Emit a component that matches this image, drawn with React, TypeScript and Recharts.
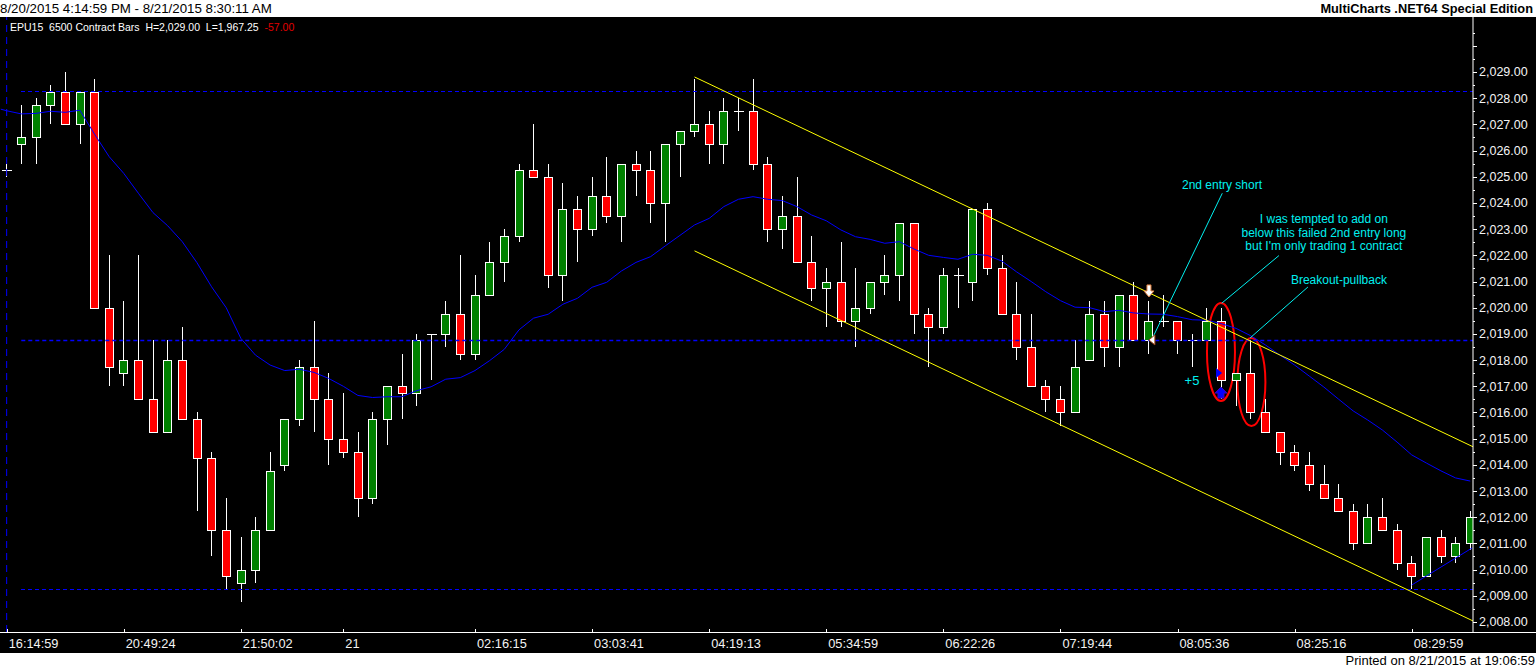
import {
  Bar,
  ComposedChart,
  Line,
  ReferenceDot,
  ReferenceLine,
  XAxis,
  YAxis,
} from 'recharts';

// first bar sits left of the session break, so bars run from index -1 to 99
const FIRST_BAR = -1;

const opens = [
  2025.25,
  2026.25, 2026.5, 2027.75, 2028.25, 2027, 2028.25, 2020, 2017.5, 2018, 2016.5,
  2015.25, 2018, 2015.75, 2014.25, 2011.5, 2009.5, 2010, 2011.5, 2014, 2015.75,
  2017.75, 2016.5, 2015, 2014.5, 2012.75, 2015.75, 2017, 2016.75, 2019, 2019,
  2019.75, 2018.25, 2020.5, 2021.75, 2022.75, 2025.25, 2025, 2021.25, 2023.75, 2023,
  2024.25, 2023.5, 2025.5, 2025.25, 2024, 2026.25, 2026.75, 2027, 2026.25, 2027.5,
  2027.5, 2025.5, 2023, 2023.5, 2021.75, 2020.75, 2021, 2019.5, 2020, 2021,
  2021.25, 2023.25, 2019.75, 2019.25, 2021.25, 2021, 2023.75, 2021.5, 2019.75, 2018.5,
  2017, 2016.5, 2016, 2018, 2019.75, 2018.5, 2020.5, 2018.75, 2019.5, 2019.5,
  2018.75, 2018.75, 2019.5, 2017.25, 2017.5, 2016, 2015.25, 2014.5, 2014, 2013.25,
  2012.75, 2012.25, 2011, 2012, 2011.5, 2010.25, 2009.75, 2011.25, 2010.5, 2011,
];
const highs = [
  2025.5,
  2027.75, 2028, 2028.5, 2029, 2028.25, 2028.75, 2022, 2020.25, 2022, 2018.75,
  2018.75, 2019.25, 2016, 2014.5, 2012.75, 2011.25, 2012, 2014.5, 2015.75, 2018,
  2019.5, 2017.5, 2016.75, 2015.25, 2016, 2017, 2018.25, 2019, 2019, 2020.25,
  2022, 2021.25, 2022.5, 2023, 2025.5, 2027, 2025.5, 2024.75, 2024.25, 2025,
  2025.75, 2025.5, 2026, 2026, 2026.25, 2026.75, 2028.75, 2027.5, 2028, 2028,
  2028.75, 2025.75, 2024.25, 2025, 2022.75, 2021.5, 2022.5, 2021.5, 2021, 2022,
  2023.25, 2023.25, 2020, 2021.5, 2021.5, 2023.75, 2024, 2022, 2021, 2019.75,
  2017.25, 2017, 2018.75, 2020.25, 2020.25, 2020.5, 2021, 2020.25, 2020.5, 2019.5,
  2019, 2020, 2020, 2017.5, 2018.75, 2016.5, 2015.25, 2014.75, 2014.5, 2014,
  2013.25, 2012.5, 2012.5, 2012.75, 2011.75, 2010.5, 2011.25, 2011.5, 2011.25, 2012.25,
];
const lows = [
  2025,
  2025.5, 2025.5, 2027, 2027, 2026.25, 2020, 2017, 2017, 2016.5, 2015.25,
  2015.25, 2015.75, 2012.25, 2010.5, 2009.25, 2008.75, 2009.5, 2011.5, 2013.75, 2015.5,
  2015.25, 2014, 2014.25, 2012, 2012.5, 2014.75, 2015.75, 2016.25, 2017.25, 2018.5,
  2018, 2018, 2020.5, 2021, 2022.5, 2025, 2020.75, 2020.25, 2021.75, 2022.75,
  2023.25, 2022.5, 2024.25, 2023.25, 2022.5, 2025, 2026.5, 2025.5, 2025.5, 2026.75,
  2025.25, 2022.5, 2022.25, 2021.75, 2020.25, 2019.25, 2019.25, 2018.5, 2019.75, 2020.5,
  2020.25, 2019, 2017.75, 2019, 2020, 2020.25, 2021.25, 2019.75, 2018, 2017,
  2016, 2015.5, 2016, 2018, 2017.75, 2017.75, 2018.75, 2018.25, 2019.25, 2018.25,
  2017.75, 2018.75, 2016.5, 2016.25, 2015.75, 2015.25, 2014, 2013.75, 2013, 2012.75,
  2012.25, 2010.75, 2011, 2011.5, 2010, 2009.25, 2009.75, 2010.25, 2010.25, 2010.75,
];
const closes = [
  2025.25,
  2026.5, 2027.75, 2028.25, 2027, 2028.25, 2020, 2017.75, 2018, 2016.5, 2015.25,
  2018, 2015.75, 2014.25, 2011.5, 2009.75, 2010, 2011.5, 2013.75, 2015.75, 2017.75,
  2016.5, 2015, 2014.5, 2012.75, 2015.75, 2017, 2016.75, 2018.75, 2019, 2019.75,
  2018.25, 2020.5, 2021.75, 2022.75, 2025.25, 2025, 2021.25, 2023.75, 2023, 2024.25,
  2023.5, 2025.5, 2025.25, 2024, 2026.25, 2026.75, 2027, 2026.25, 2027.5, 2027.5,
  2025.5, 2023, 2023.5, 2021.75, 2020.75, 2021, 2019.5, 2020, 2021, 2021.25,
  2023.25, 2019.75, 2019.25, 2021.25, 2021.25, 2023.75, 2021.5, 2019.75, 2018.5, 2017,
  2016.5, 2016, 2017.75, 2019.75, 2018.5, 2020.5, 2018.75, 2019.5, 2019.5, 2018.75,
  2018.75, 2019.5, 2017.25, 2017.5, 2016, 2015.25, 2014.5, 2014, 2013.25, 2012.75,
  2012.25, 2011, 2012, 2011.5, 2010.25, 2009.75, 2011.25, 2010.5, 2011, 2012,
];
const movingAvg = [
  2027.52,
  2027.4, 2027.42, 2027.5, 2027.46, 2027.54, 2026.63, 2025.77, 2025.13, 2024.37, 2023.63,
  2023.13, 2022.52, 2021.72, 2020.8, 2020, 2018.83, 2018.19, 2017.81, 2017.6, 2017.65,
  2017.53, 2017.3, 2017, 2016.65, 2016.57, 2016.6, 2016.6, 2016.83, 2016.98, 2017.27,
  2017.33, 2017.6, 2017.98, 2018.41, 2019.15, 2019.6, 2019.75, 2020.13, 2020.36, 2020.78,
  2020.97, 2021.4, 2021.73, 2021.95, 2022.36, 2022.76, 2023.16, 2023.41, 2023.86, 2024.14,
  2024.24, 2024.14, 2024.09, 2023.86, 2023.54, 2023.32, 2022.97, 2022.71, 2022.61, 2022.46,
  2022.52, 2022.24, 2022, 2021.92, 2021.85, 2022.04, 2022, 2021.78, 2021.37, 2021,
  2020.61, 2020.27, 2020.02, 2020, 2019.85, 2019.9, 2019.8, 2019.76, 2019.75, 2019.66,
  2019.54, 2019.52, 2019.39, 2019.21, 2018.93, 2018.58, 2018.19, 2017.81, 2017.39, 2016.97,
  2016.51, 2016.06, 2015.71, 2015.33, 2014.87, 2014.38, 2014.07, 2013.77, 2013.5, 2013.38,
];

const xTickBars = [-1, 7, 15, 22, 31, 39, 47, 55, 63, 71, 79, 87, 95];
const xTickLabels = [
  '16:14:59', '20:49:24', '21:50:02', '21', '02:16:15', '03:03:41', '04:19:13',
  '05:34:59', '06:22:26', '07:19:44', '08:05:36', '08:25:16', '08:29:59',
];
const labelledPrices = [
  2008, 2009, 2010, 2011, 2012, 2013, 2014, 2015, 2016, 2017, 2018,
  2019, 2020, 2021, 2022, 2023, 2024, 2025, 2026, 2027, 2028, 2029,
];
const unlabelledPrices = [
  2008.5, 2009.5, 2010.5, 2011.5, 2012.5, 2013.5, 2014.5, 2015.5, 2016.5, 2017.5, 2018.5,
  2019.5, 2020.5, 2021.5, 2022.5, 2023.5, 2024.5, 2025.5, 2026.5, 2027.5, 2028.5, 2029.5,
  2030, 2030.5,
];

// session high and low are thin, the mid level is heavier
const outerLevels = [2028.26, 2009.25];
const midLevel = 2018.75;

// hand drawn lines: [bar, price, bar, price]
const yellowLines = [
  [46, 2028.81, 99.19, 2014.69],
  [46, 2022.17, 99.19, 2008.04],
];
const blueLines = [
  [95, 2009.41, 99.14, 2010.83],
  // the average comes in from bars off the left edge
  [-1.4, 2027.58, -1, 2027.52],
];
const cyanLines = [
  [82.06, 2024.37, 77.23, 2018.77],
  [85.93, 2021.99, 82.02, 2020.17],
  [87.91, 2020.79, 83.95, 2018.84],
];

const notes = [
  { bar: 82.04, price: 2024.69, text: '2nd entry short', size: 12 },
  { bar: 89, price: 2023.39, text: 'I was tempted to add on', size: 12 },
  { bar: 89, price: 2022.85, text: 'below this failed 2nd entry long', size: 12 },
  { bar: 89, price: 2022.36, text: "but I'm only trading 1 contract", size: 12 },
  { bar: 90.03, price: 2021.06, text: 'Breakout-pullback', size: 12 },
  { bar: 79.99, price: 2017.2, text: '+5', size: 13 },
];
const ellipses = [
  { bar: 81.97, price: 2018.31, ry: 49 },
  { bar: 84.05, price: 2017.16, ry: 44 },
];

const data = opens.map((open, i) => ({
  bar: FIRST_BAR + i,
  open,
  high: highs[i],
  low: lows[i],
  close: closes[i],
  ma: movingAvg[i],
}));

const FONT = '"Liberation Sans", Arial, sans-serif';
const AXIS_X = 1473;
const AXIS_Y = 632;
const CYAN = '#00f0f0';
const BLUE = '#0000ff';

function Candle(props: any) {
  const { x, y, width, height, payload } = props;
  const { open, high, low, close } = payload;
  const perPoint = height / (high - low);
  const cx = Math.round(x + width / 2) + 0.5;
  const top = Math.round(y + (high - Math.max(open, close)) * perPoint) + 0.5;
  const bottom = Math.round(y + (high - Math.min(open, close)) * perPoint) + 0.5;
  return (
    <g shapeRendering="crispEdges">
      <line x1={cx} x2={cx} y1={y} y2={y + height} stroke="#fff" />
      {open === close ? (
        <line x1={cx - 5} x2={cx + 5} y1={top} y2={top} stroke="#fff" />
      ) : (
        <rect
          x={cx - 4}
          y={top}
          width={8}
          height={bottom - top}
          fill={close > open ? '#008000' : '#ff0000'}
          stroke="#fff"
        />
      )}
    </g>
  );
}

function PriceTick(props: any) {
  const { y, payload } = props;
  const value = payload.value;
  const isWhole = Number.isInteger(value);
  const yy = Math.round(y) + 0.5;
  return (
    <g>
      <line x1={AXIS_X} x2={AXIS_X + (isWhole ? 4 : 2)} y1={yy} y2={yy} stroke="#fff" shapeRendering="crispEdges" />
      {labelledPrices.includes(value) && (
        <text x={1479} y={y + 4.5} fill="#f4f4f4" fontSize={12.5} fontFamily={FONT}>
          {value.toLocaleString('en-US', { minimumFractionDigits: 2 })}
        </text>
      )}
    </g>
  );
}

function TimeTick(props: any) {
  const { x, payload } = props;
  const xx = Math.round(x) + 0.5;
  return (
    <g>
      <line x1={xx} x2={xx} y1={AXIS_Y - 3} y2={AXIS_Y} stroke="#fff" shapeRendering="crispEdges" />
      <text x={x + 2} y={AXIS_Y + 16} fill="#f4f4f4" fontSize={12.8} fontFamily={FONT}>
        {xTickLabels[xTickBars.indexOf(payload.value)]}
      </text>
    </g>
  );
}

const segment = ([x1, y1, x2, y2]: number[]) => [
  { x: x1, y: y1 },
  { x: x2, y: y2 },
];

export default function App() {
  return (
    <div style={{ position: 'absolute', left: 0, top: 0, width: 1536, height: 668, background: '#fff', overflow: 'hidden' }}>
      <div style={{ position: 'absolute', left: 0, top: 17, width: 1536, height: 636, background: '#000' }} />
      <div style={{ position: 'absolute', left: 0, top: AXIS_Y, width: 1536, height: 1, background: '#fff' }} />
      <div style={{ position: 'absolute', left: 0, top: 1, fontFamily: FONT, fontSize: 13.3, color: '#000', whiteSpace: 'nowrap' }}>
        8/20/2015 4:14:59 PM - 8/21/2015 8:30:11 AM
      </div>
      <div style={{ position: 'absolute', right: 3, top: 1, fontFamily: FONT, fontSize: 12.8, fontWeight: 'bold', color: '#000', whiteSpace: 'nowrap' }}>
        MultiCharts .NET64 Special Edition
      </div>
      <div style={{ position: 'absolute', left: 10, top: 21, fontFamily: FONT, fontSize: 10.5, color: '#fff', whiteSpace: 'pre' }}>
        {'EPU15  6500 Contract Bars  H=2,029.00  L=1,967.25  '}
        <span style={{ color: '#e00000' }}>-57.00</span>
      </div>
      <div style={{ position: 'absolute', right: 1, top: 653, fontFamily: FONT, fontSize: 13, color: '#000', whiteSpace: 'nowrap' }}>
        Printed on 8/21/2015 at 19:06:59
      </div>
      <div style={{ position: 'absolute', left: 0, top: 0 }}>
        <ComposedChart
          width={1536}
          height={668}
          data={data}
          margin={{ top: 17, right: 0, bottom: 15, left: 0 }}
        >
          <XAxis
            dataKey="bar"
            type="number"
            domain={[-1.455, 99.19]}
            allowDataOverflow
            ticks={xTickBars}
            interval={0}
            height={21}
            axisLine={false}
            tickLine={false}
            tick={<TimeTick />}
          />
          <YAxis
            orientation="right"
            type="number"
            domain={[2007.617, 2031.1]}
            allowDataOverflow
            ticks={[...labelledPrices, ...unlabelledPrices].sort((a, b) => a - b)}
            interval={0}
            width={63}
            axisLine={{ stroke: '#fff' }}
            tickLine={false}
            tick={<PriceTick />}
          />
          {ellipses.map((e) => (
            <ReferenceDot
              key={e.bar}
              x={e.bar}
              y={e.price}
              zIndex={-10}
              shape={(p: any) => (
                <ellipse cx={p.cx} cy={p.cy} rx={14} ry={e.ry} fill="none" stroke="#ff0000" strokeWidth={2} />
              )}
            />
          ))}
          <Bar
            dataKey={(d: any) => [d.low, d.high]}
            barSize={8}
            isAnimationActive={false}
            shape={<Candle />}
          />
          <Line
            dataKey="ma"
            stroke={BLUE}
            strokeWidth={1}
            dot={false}
            activeDot={false}
            type="linear"
            isAnimationActive={false}
          />
          <ReferenceLine x={FIRST_BAR} stroke={BLUE} strokeDasharray="7 5" />
          {outerLevels.map((level) => (
            <ReferenceLine
              key={level}
              segment={segment([0, level, 99.19, level])}
              stroke={BLUE}
              strokeDasharray="4 3"
              shapeRendering="crispEdges"
            />
          ))}
          <ReferenceLine
            segment={segment([0, midLevel, 99.19, midLevel])}
            stroke={BLUE}
            strokeWidth={1.5}
            strokeDasharray="4 3"
          />
          {yellowLines.map((l, i) => (
            <ReferenceLine key={`y${i}`} segment={segment(l)} stroke="#ffff00" />
          ))}
          {blueLines.map((l, i) => (
            <ReferenceLine key={`b${i}`} segment={segment(l)} stroke={BLUE} />
          ))}
          {cyanLines.map((l, i) => (
            <ReferenceLine key={`c${i}`} segment={segment(l)} stroke={CYAN} />
          ))}
          {/* trade markers */}
          <ReferenceDot
            x={77.05}
            y={2020.64}
            shape={(p: any) => (
              <path
                d={`M${p.cx - 2},${p.cy - 6}h4v6h3l-5,6l-5,-6h3z`}
                fill="#fff"
                stroke="#e08040"
              />
            )}
          />
          <ReferenceDot
            x={77.25}
            y={2018.77}
            shape={(p: any) => (
              <path d={`M${p.cx + 3},${p.cy - 5}v10l-6,-5z`} fill="#fff" stroke="#a04010" />
            )}
          />
          <ReferenceDot
            x={81.77}
            y={2017.51}
            shape={(p: any) => <path d={`M${p.cx - 2},${p.cy - 5}v10l6,-5z`} fill={BLUE} />}
          />
          <ReferenceDot
            x={81.97}
            y={2016.74}
            shape={(p: any) => (
              <path d={`M${p.cx},${p.cy - 6}l6,6h-3v5h-6v-5h-3z`} fill={BLUE} stroke="#4000c0" />
            )}
          />
          {notes.map((n) => (
            <ReferenceDot
              key={n.text}
              x={n.bar}
              y={n.price}
              shape={(p: any) => (
                <text
                  x={p.cx}
                  y={p.cy + 4}
                  textAnchor="middle"
                  fill={CYAN}
                  fontSize={n.size}
                  fontFamily={FONT}
                >
                  {n.text}
                </text>
              )}
            />
          ))}
        </ComposedChart>
      </div>
    </div>
  );
}
